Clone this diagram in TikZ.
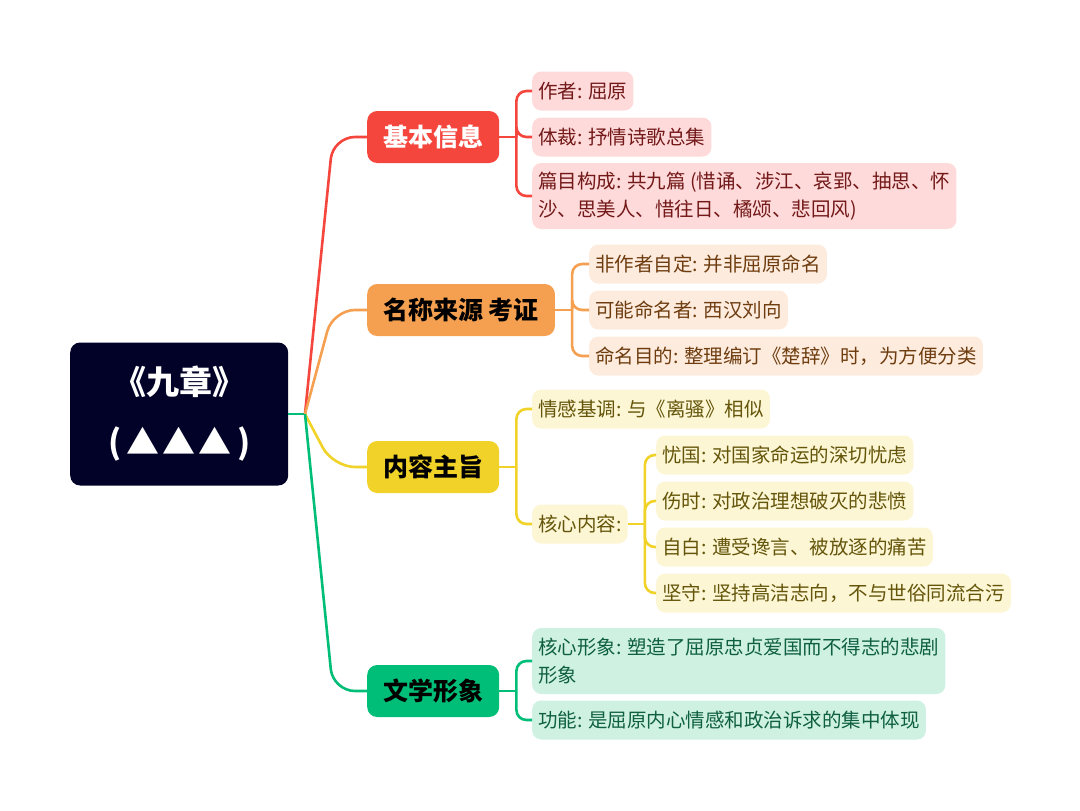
\documentclass[tikz,border=0pt]{standalone}
\usepackage{fontspec}
\setmainfont{Noto Sans CJK SC}
\usetikzlibrary{positioning}
\definecolor{rootfill}{RGB}{2,2,40}
\definecolor{redmain}{RGB}{245,70,62}
\definecolor{orangemain}{RGB}{245,160,80}
\definecolor{yellowmain}{RGB}{240,210,40}
\definecolor{greenmain}{RGB}{0,190,120}
\definecolor{redsoft}{RGB}{255,218,218}
\definecolor{orangesoft}{RGB}{253,236,222}
\definecolor{yellowsoft}{RGB}{252,246,212}
\definecolor{greensoft}{RGB}{206,241,226}
\definecolor{redtext}{RGB}{115,25,25}
\definecolor{orangetext}{RGB}{110,60,15}
\definecolor{yellowtext}{RGB}{100,85,10}
\definecolor{greentext}{RGB}{15,95,65}

\begin{document}
\begin{tikzpicture}[
  x=1pt, y=-1pt,
  every node/.style={
    rounded corners=9pt, anchor=west, align=left,
    inner xsep=6pt, inner ysep=0pt, minimum height=39pt,
    font=\fontsize{19.5}{28}\selectfont
  },
  rootbox/.style={
    fill=rootfill, text=white, align=center, minimum width=218pt,
    minimum height=143pt, rounded corners=10pt,
    font=\fontsize{33}{60}\selectfont\bfseries
  },
  topic/.style={
    inner xsep=16pt, minimum height=52pt, rounded corners=10pt,
    font=\fontsize{25}{28}\selectfont\bfseries
  },
  redleaf/.style={fill=redsoft, text=redtext},
  orangeleaf/.style={fill=orangesoft, text=orangetext},
  yellowleaf/.style={fill=yellowsoft, text=yellowtext},
  greenleaf/.style={fill=greensoft, text=greentext},
  link/.style={line width=2.6pt, rounded corners=10pt},
  redline/.style={link, draw=redmain},
  orangeline/.style={link, draw=orangemain},
  yellowline/.style={link, draw=yellowmain},
  greenline/.style={link, draw=greenmain},
]
\useasboundingbox (0,0) rectangle (1080,811);

% ---- Root and main topics ----
\node (root)  at (70,414)  [rootbox]
  {\raisebox{-3pt}{《九章》}\\\raisebox{-3pt}{(\,▲\hspace{3pt}▲\hspace{3pt}▲\,)}};

\node (info)  at (367,137) [topic, fill=redmain, text=white] {基本信息};
\node (name)  at (367,310) [topic, fill=orangemain] {名称来源 考证};
\node (theme) at (367,467) [topic, fill=yellowmain] {内容主旨};
\node (image) at (367,691) [topic, fill=greenmain] {文学形象};

% ---- Leaves ----
\node (author)  at (532,91)  [redleaf] {作者: 屈原};
\node (genre)   at (532,137) [redleaf] {体裁: 抒情诗歌总集};
\node (pieces)  at (532,196) [redleaf, minimum height=66pt]
  {篇目构成: 共九篇 (惜诵、涉江、哀郢、抽思、怀\\沙、思美人、惜往日、橘颂、悲回风)};

\node (notself) at (589,264) [orangeleaf] {非作者自定: 并非屈原命名};
\node (namer)   at (589,310) [orangeleaf] {可能命名者: 西汉刘向};
\node (purpose) at (589,356) [orangeleaf] {命名目的: 整理编订《楚辞》时，为方便分类};

\node (tone)    at (532,409) [yellowleaf] {情感基调: 与《离骚》相似};
\node (core)    at (532,524) [yellowleaf] {核心内容:};
\node (worry)   at (656,455) [yellowleaf] {忧国: 对国家命运的深切忧虑};
\node (grief)   at (656,501) [yellowleaf] {伤时: 对政治理想破灭的悲愤};
\node (confess) at (656,547) [yellowleaf] {自白: 遭受谗言、被放逐的痛苦};
\node (resolve) at (656,593) [yellowleaf] {坚守: 坚持高洁志向，不与世俗同流合污};

\node (figure)  at (532,661) [greenleaf, minimum height=66pt]
  {核心形象: 塑造了屈原忠贞爱国而不得志的悲剧\\形象};
\node (role)    at (532,720) [greenleaf] {功能: 是屈原内心情感和政治诉求的集中体现};

% ---- Branches from the root ----
\coordinate (hub) at (305,414);
\draw[greenline] (root.east) -- (hub);
\draw[redline, rounded corners=22pt] (hub) -- ([xshift=-34pt]info.west) -- (info.west);
\draw[orangeline, rounded corners=22pt] (hub) -- ([xshift=-34pt]name.west) -- (name.west);
\draw[yellowline, rounded corners=22pt] (hub) -- ([xshift=-34pt]theme.west) -- (theme.west);
\draw[greenline, rounded corners=22pt] (hub) -- ([xshift=-34pt]image.west) -- (image.west);

% ---- Brackets to the leaves ----
\coordinate (jinfo)  at ([xshift=17pt]info.east);
\coordinate (jname)  at ([xshift=17pt]name.east);
\coordinate (jtheme) at ([xshift=17pt]theme.east);
\coordinate (jcore)  at ([xshift=17pt]core.east);
\coordinate (jimage) at ([xshift=17pt]image.east);

\draw[redline] (info.east) -- (jinfo);
\foreach \c in {author, genre, pieces}
  \draw[redline] (jinfo) |- (\c.west);

\draw[orangeline] (name.east) -- (jname);
\foreach \c in {notself, namer, purpose}
  \draw[orangeline] (jname) |- (\c.west);

\draw[yellowline] (theme.east) -- (jtheme);
\foreach \c in {tone, core}
  \draw[yellowline] (jtheme) |- (\c.west);
\draw[yellowline] (core.east) -- (jcore);
\foreach \c in {worry, grief, confess, resolve}
  \draw[yellowline] (jcore) |- (\c.west);

\draw[greenline] (image.east) -- (jimage);
\foreach \c in {figure, role}
  \draw[greenline] (jimage) |- (\c.west);

\end{tikzpicture}
\end{document}
